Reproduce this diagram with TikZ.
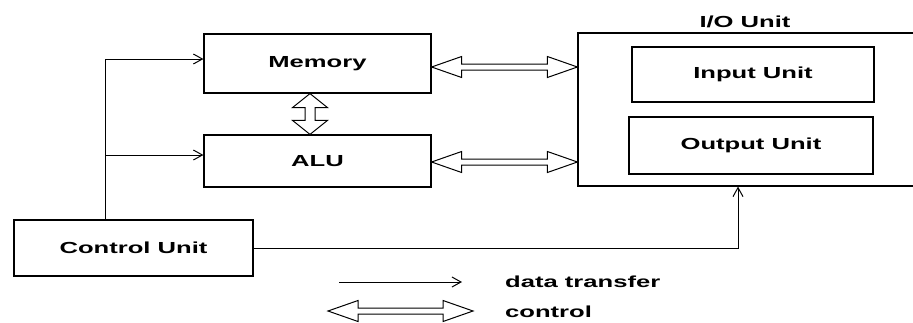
\documentclass[tikz,border=0pt]{standalone}
\usepackage{fontspec}
\setmainfont[FakeStretch=1.6]{Liberation Sans}
\usetikzlibrary{arrows.meta,calc}
\newcommand\mydarrH[2]{\draw[ctl] (#1) -- ++(30,-10.5) -- ++(0,7.5) -- ($(#2)+(-30,-3)$) -- ++(0,-7.5) -- (#2) -- ++(-30,10.5) -- ++(0,-7.5) -- ($(#1)+(30,3)$) -- ++(0,7.5) -- cycle;}
\newcommand\mydarrV[2]{\draw[ctl] (#1) -- ++(17.5,14) -- ++(-12.5,0) -- ($(#2)+(5,-14)$) -- ++(12.5,0) -- (#2) -- ++(-17.5,-14) -- ++(12.5,0) -- ($(#1)+(-5,14)$) -- ++(-12.5,0) -- cycle;}
\begin{document}
\begin{tikzpicture}[x=1pt,y=-1pt,
  box/.style={draw, line width=1.2pt, inner sep=0pt, font=\bfseries\fontsize{16}{18}\selectfont},
  lbl/.style={font=\bfseries\fontsize{16}{18}\selectfont, inner sep=0pt},
  data/.style={line width=1pt, -{Straight Barb[length=9pt,width=10pt,line width=1pt]}},
  ctl/.style={draw, line width=1pt, fill=white, line join=miter}]
\useasboundingbox (0,0) rectangle (913,322);
\clip (0,0) rectangle (913,322);
\fill[white] (0,0) rectangle (913,322);
% boxes
\node[box, minimum width=227pt, minimum height=59pt] (mem) at (317.5,63.5) {Memory};
\node[box, minimum width=227pt, minimum height=52pt] (alu) at (317.5,161) {ALU};
\node[box, minimum width=239pt, minimum height=56pt] (ctrl) at (133.5,248) {Control Unit};
\node[box, minimum width=342pt, minimum height=153pt] (io) at (749,109.5) {};
\node[box, minimum width=242pt, minimum height=55pt] (inp) at (753,74.5) {Input Unit};
\node[box, minimum width=244pt, minimum height=57pt] (out) at (751,145.5) {Output Unit};
\node[lbl, anchor=base] (iot) at (745,27) {I/O Unit};
% data transfer connectors
\coordinate (j1) at (105,59);
\coordinate (j2) at (105,155);
\draw[data] (ctrl.north -| j1) -- (j1) -- (j1 -| mem.west);
\draw[data] (j2) -- (j2 -| alu.west);
\coordinate (iob) at ([xshift=-11pt]io.south);
\draw[data] (ctrl.east) -| (iob);
% control double arrows
\coordinate (ym) at (0,67);
\coordinate (ya) at (0,162);
\coordinate (ma) at (mem.east |- ym);
\coordinate (mb) at (io.west |- ym);
\coordinate (aa) at (alu.east |- ya);
\coordinate (ab) at (io.west |- ya);
\mydarrH{ma}{mb}
\mydarrH{aa}{ab}
\coordinate (vx) at (310,0);
\coordinate (va) at (mem.south -| vx);
\coordinate (vb) at (alu.north -| vx);
\mydarrV{va}{vb}
% legend
\coordinate (l1a) at (339,282);
\coordinate (l1b) at (462,282);
\draw[data] (l1a) -- (l1b);
\coordinate (l2a) at (328,311);
\coordinate (l2b) at (473,311);
\mydarrH{l2a}{l2b}
\node[lbl, anchor=base west] (t1) at (505,287) {data transfer};
\node[lbl, anchor=base west] (t2) at (505,317) {control};
\end{tikzpicture}
\end{document}
